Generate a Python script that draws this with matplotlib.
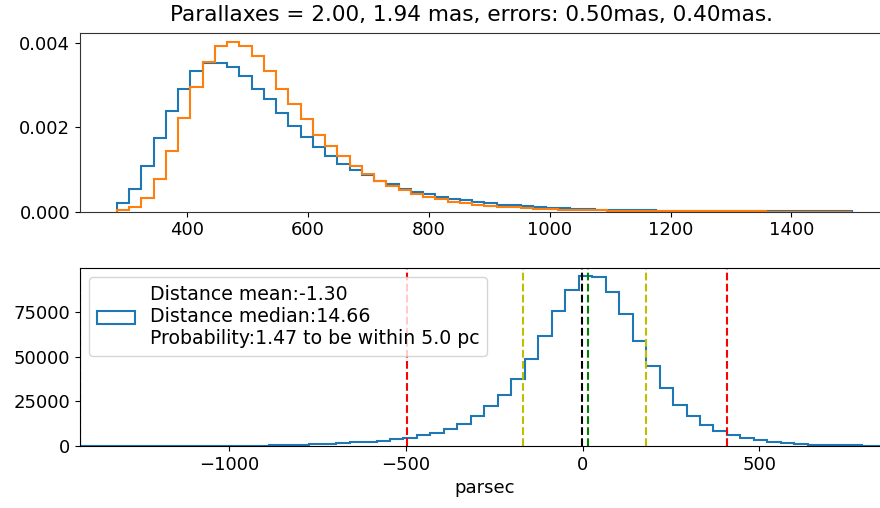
import matplotlib
matplotlib.use("Agg")
import matplotlib.pyplot as plt
import numpy as np

# top panel: distance pdfs (pc) for the two parallaxes, common bins
dist_lo = 284.0
dist_hi = 1500.0
dist_nbins = 60

dens_star1 = [0.000207, 0.000546, 0.00108, 0.00174, 0.00239, 0.00292, 0.00334, 0.00353, 0.00353, 0.00344,
              0.00322, 0.00292, 0.00267, 0.00234, 0.00204, 0.00178, 0.00154, 0.00132, 0.00114, 0.00100,
              0.00086, 0.00072, 0.00065, 0.00054, 0.00047, 0.00041, 0.00035, 0.00030, 0.00027, 0.00024,
              0.00020, 0.00017, 0.00015, 0.00013, 0.00011, 0.000095, 0.00008, 0.00007, 0.00006, 0.00005,
              0.000045, 0.00004, 0.000036, 0.000032, 0.000028, 0.000025, 0.000022, 0.00002, 0.000018, 0.000016,
              0.000014, 0.000012, 0.000011, 0.00001, 0.000009, 0.000008, 0.000007, 0.000006, 0.000005, 0.000005]

dens_star2 = [0.00003, 0.00010, 0.00032, 0.00078, 0.00144, 0.00223, 0.00296, 0.00356, 0.00393, 0.00404,
              0.00393, 0.00369, 0.00334, 0.00292, 0.00255, 0.00219, 0.00183, 0.00156, 0.00132, 0.00108,
              0.00089, 0.00072, 0.00062, 0.00051, 0.00043, 0.00036, 0.00030, 0.00024, 0.00020, 0.00017,
              0.00014, 0.00012, 0.00010, 0.00008, 0.00007, 0.00006, 0.00005, 0.000042, 0.000035, 0.00003,
              0.000025, 0.000021, 0.000018, 0.000015, 0.000013, 0.000011, 0.00001, 0.000009, 0.000008, 0.000007,
              0.000006, 0.000005, 0.000005, 0.000004, 0.000004, 0.000003, 0.000003, 0.000003, 0.000002, 0.000002]

# bottom panel: distance difference (pc)
diff_lo = -1423.0
diff_hi = 867.0
diff_nbins = 60

diff_counts = [5, 10, 15, 20, 30, 40, 50, 60, 80, 100,
               130, 170, 220, 280, 370, 560, 750, 930, 1300, 1700,
               2050, 2400, 3050, 3800, 4700, 6000, 7400, 9800, 12600, 16700,
               22300, 28600, 37600, 49000, 61500, 75400, 87600, 95000, 94700, 86300,
               74000, 58700, 44700, 32600, 23200, 16700, 12000, 8300, 6000, 4400,
               3100, 2100, 1600, 1200, 850, 600, 450, 330, 240, 180]

dist_mean = -1.30
dist_median = 14.66
prob_within = 1.47
within_pc = 5.0
perc_1sig = [-168.0, 181.0]
perc_2sig = [-497.0, 408.0]

plx = [2.00, 1.94]
plx_err = [0.50, 0.40]

plt.rcParams["font.size"] = 13

fig = plt.figure(figsize=(8.8, 5.08), dpi=100)
ax1 = fig.add_axes([0.0909, 0.5833, 0.919, 0.3517])
ax2 = fig.add_axes([0.0909, 0.1220, 0.919, 0.3504])

edges = np.linspace(dist_lo, dist_hi, dist_nbins + 1)
mids = 0.5 * (edges[:-1] + edges[1:])
ax1.hist(mids, bins=edges, weights=dens_star1, histtype="step", linewidth=1.5)
ax1.hist(mids, bins=edges, weights=dens_star2, histtype="step", linewidth=1.5)
ax1.set_yticks([0.0, 0.002, 0.004])
for s in ax1.spines.values():
    s.set_color("0.2")

# title is centred on the (wider, cropped) original figure
fig.suptitle("Parallaxes = %.2f, %.2f mas, errors: %.2fmas, %.2fmas." % (plx[0], plx[1], plx_err[0], plx_err[1]),
             x=0.536, y=0.970, va="center", fontsize=15.6)

dedges = np.linspace(diff_lo, diff_hi, diff_nbins + 1)
dmids = 0.5 * (dedges[:-1] + dedges[1:])
lab = "Distance mean:%.2f\nDistance median:%.2f\nProbability:%.2f to be within %.1f pc" % (
    dist_mean, dist_median, prob_within, within_pc)
ax2.hist(dmids, bins=dedges, weights=diff_counts, histtype="step", linewidth=1.5, label=lab)
ax2.axvline(diff_lo, color="k", linestyle="--", linewidth=1.5)
ax2.axvline(perc_2sig[0], color="r", linestyle="--", linewidth=1.5)
ax2.axvline(perc_2sig[1], color="r", linestyle="--", linewidth=1.5)
ax2.axvline(perc_1sig[0], color="y", linestyle="--", linewidth=1.5)
ax2.axvline(perc_1sig[1], color="y", linestyle="--", linewidth=1.5)
ax2.axvline(dist_mean, color="k", linestyle="--", linewidth=1.5)
ax2.axvline(dist_median, color="g", linestyle="--", linewidth=1.5)
ax2.set_xlim(diff_lo, diff_hi)
ax2.set_xlabel("parsec")
ax2.legend(loc="upper left", fontsize=13.6)

fig.savefig("out.png", dpi=100)
